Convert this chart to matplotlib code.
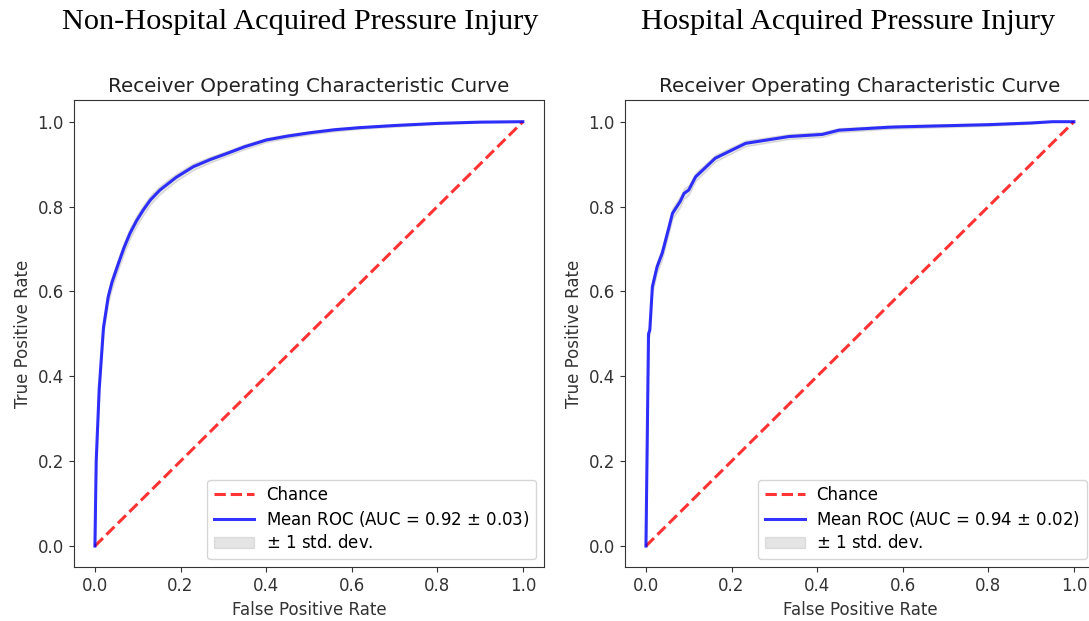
import matplotlib
matplotlib.use("Agg")
import matplotlib.pyplot as plt
import numpy as np

# mean ROC, non-hospital acquired
fpr_nh = [0.0, 0.003, 0.010, 0.020, 0.031, 0.040, 0.055, 0.068, 0.082, 0.097,
          0.113, 0.130, 0.152, 0.190, 0.230, 0.270, 0.308, 0.350, 0.401, 0.450,
          0.503, 0.560, 0.619, 0.700, 0.80, 0.90, 1.0]
tpr_nh = [0.0, 0.20, 0.370, 0.515, 0.587, 0.622, 0.666, 0.703, 0.737, 0.766,
          0.792, 0.816, 0.839, 0.869, 0.894, 0.911, 0.925, 0.941, 0.957, 0.966,
          0.974, 0.981, 0.986, 0.991, 0.996, 0.999, 1.0]
std_nh = [0.0, 0.010, 0.015, 0.015, 0.015, 0.015, 0.014, 0.014, 0.013, 0.013,
          0.012, 0.011, 0.010, 0.009, 0.008, 0.007, 0.006, 0.006, 0.005, 0.005,
          0.004, 0.004, 0.003, 0.003, 0.002, 0.001, 0.0]

# mean ROC, hospital acquired
fpr_h = [0.0, 0.006, 0.009, 0.015, 0.026, 0.038, 0.054, 0.062, 0.080, 0.089,
         0.100, 0.116, 0.162, 0.233, 0.334, 0.412, 0.451, 0.568, 0.60, 0.80,
         0.90, 0.95, 1.0]
tpr_h = [0.0, 0.50, 0.509, 0.611, 0.658, 0.690, 0.752, 0.784, 0.812, 0.831,
         0.839, 0.870, 0.914, 0.949, 0.965, 0.970, 0.980, 0.987, 0.988, 0.993,
         0.997, 1.0, 1.0]
std_h = [0.0, 0.010, 0.012, 0.014, 0.014, 0.014, 0.014, 0.013, 0.013, 0.012,
         0.012, 0.010, 0.008, 0.007, 0.006, 0.006, 0.005, 0.004, 0.004, 0.003,
         0.002, 0.0, 0.0]

panels = [
    ("Non-Hospital Acquired Pressure Injury", fpr_nh, tpr_nh, std_nh, "0.92", "0.03"),
    ("Hospital Acquired Pressure Injury", fpr_h, tpr_h, std_h, "0.94", "0.02"),
]

fig = plt.figure(figsize=(10.89, 6.21), dpi=100)
axes_x = [0.0675, 0.5735]
heading_x = [0.2755, 0.7787]

for (name, fpr, tpr, std, auc, auc_sd), x0, hx in zip(panels, axes_x, heading_x):
    ax = fig.add_axes([x0, 0.0865, 0.4323, 0.7517])
    fpr = np.array(fpr)
    tpr = np.array(tpr)
    std = np.array(std)

    ax.plot([0, 1], [0, 1], linestyle='--', lw=2.2, color='r', alpha=.8, label='Chance')
    ax.plot(fpr, tpr, color='b', lw=2.2, alpha=.8,
            label='Mean ROC (AUC = %s $\\pm$ %s)' % (auc, auc_sd))
    ax.fill_between(fpr, np.maximum(tpr - std, 0), np.minimum(tpr + std, 1),
                    color='grey', alpha=.2, label='$\\pm$ 1 std. dev.')

    ax.set_xlim(-0.05, 1.05)
    ax.set_ylim(-0.05, 1.05)
    ax.set_xticks([0, 0.2, 0.4, 0.6, 0.8, 1.0])
    ax.set_yticks([0, 0.2, 0.4, 0.6, 0.8, 1.0])
    ax.tick_params(labelsize=12, colors='#333333')
    for s in ax.spines.values():
        s.set_color('#333333')
    ax.set_xlabel('False Positive Rate', fontsize=12, color='#333333')
    ax.set_ylabel('True Positive Rate', fontsize=12, color='#333333')
    ax.set_title('Receiver Operating Characteristic Curve', fontsize=14.3,
                 color='#222222', pad=6)
    ax.legend(loc='lower right', fontsize=12, labelspacing=0.3,
              handlelength=2.4, handletextpad=0.7)

    # panel heading in serif, above each axes
    fig.text(hx, 0.965, name, ha='center', va='center',
             fontsize=21.9, family='Liberation Serif')

plt.savefig('out.png', dpi=100)
plt.close()
